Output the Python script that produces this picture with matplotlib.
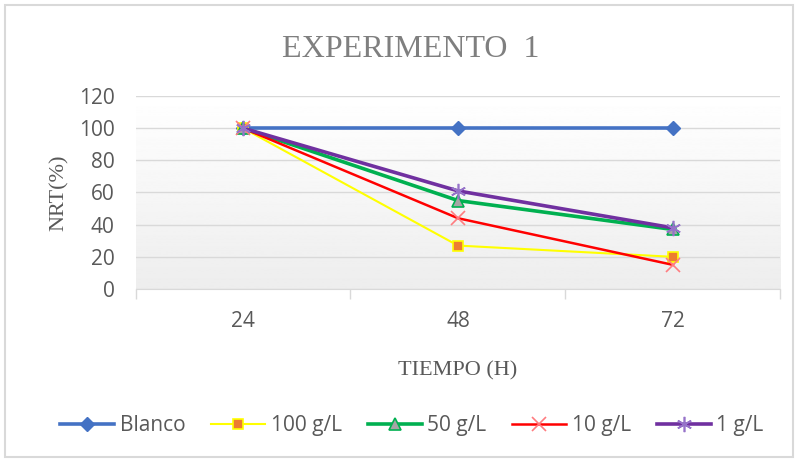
import numpy as np
import matplotlib
matplotlib.use("Agg")
import matplotlib.pyplot as plt
from matplotlib.patches import Rectangle

# datos
tiempos = ["24", "48", "72"]
blanco = [100, 100, 100]
g100 = [100, 27, 20]
g50 = [100, 55, 37]
g10 = [100, 44, 15]
g1 = [100, 61, 38]

gris = "#595959"
serif = "Liberation Serif"
sans = "Open Sans"

fig = plt.figure(figsize=(7.98, 4.61), dpi=100)
fig.patches.append(Rectangle((0.006, 0.008), 0.988, 0.982, transform=fig.transFigure,
                             fill=False, edgecolor="#d9d9d9", linewidth=1.5))
ax = fig.add_axes([0.1698, 0.3731, 0.8082, 0.4187])

x = np.arange(len(tiempos))

# fondo degradado del área de trazado
grad = np.linspace(1.0, 0.93, 256).reshape(-1, 1)
ax.imshow(grad, extent=[0, 1, 0, 1], transform=ax.transAxes, cmap="gray",
          vmin=0, vmax=1, aspect="auto", zorder=0)

ax.plot(x, blanco, color="#4472C4", lw=2.6, marker="D", ms=7, label="Blanco", zorder=3)
ax.plot(x, g100, color="#FFFF00", lw=1.5, marker="s", ms=7, mfc="#ED7D31", mec="#FFFF00",
        mew=1.2, label="100 g/L", zorder=3)
ax.plot(x, g50, color="#00B050", lw=2.6, marker="^", ms=8, mfc="#A5A5A5", mec="#00B050",
        mew=1.2, label="50 g/L", zorder=3)
ax.plot(x, g10, color="#FF0000", lw=1.8, marker="x", ms=10, mec="#FF7C80", mew=1.2,
        label="10 g/L", zorder=3)
ax.plot(x, g1, color="#7030A0", lw=2.6, marker=(6, 2, 0), ms=11, mec="#9673C9", mew=1.2,
        label="1 g/L", zorder=3)

ax.set_xlim(-0.5, 2.5)
ax.set_ylim(0, 120)
ax.set_yticks(range(0, 121, 20))
ax.set_xticks(x)
ax.set_xticklabels(tiempos)
ax.set_xticks([-0.5, 0.5, 1.5, 2.5], minor=True)
ax.grid(axis="y", color="#d9d9d9", lw=1)
ax.set_axisbelow(True)

for s in ["top", "right", "left"]:
    ax.spines[s].set_visible(False)
ax.spines["bottom"].set_color("#d9d9d9")
ax.spines["bottom"].set_zorder(2)
ax.tick_params(axis="y", length=0, pad=15, labelsize=15, labelcolor=gris)
ax.tick_params(axis="x", which="major", length=0, pad=16, labelsize=15, labelcolor=gris)
ax.tick_params(axis="x", which="minor", length=7, color="#d9d9d9", width=1)
for t in ax.get_xticklabels() + ax.get_yticklabels():
    t.set_family(sans)

fig.text(0.515, 0.893, "EXPERIMENTO  1", ha="center", va="center", family=serif,
         fontsize=23, color="#7f7f7f")
ax.set_ylabel("NRT(%)", family=serif, fontsize=16, color=gris, labelpad=7)
ax.set_xlabel("TIEMPO (H)", family=serif, fontsize=16, color=gris, labelpad=21)

fig.legend(loc="center", bbox_to_anchor=(0.516, 0.076), ncol=5, frameon=False,
           handlelength=2.6, columnspacing=1.25, handletextpad=0.25,
           prop={"family": sans, "size": 15}, labelcolor=gris)

fig.savefig("out.png", dpi=100)
